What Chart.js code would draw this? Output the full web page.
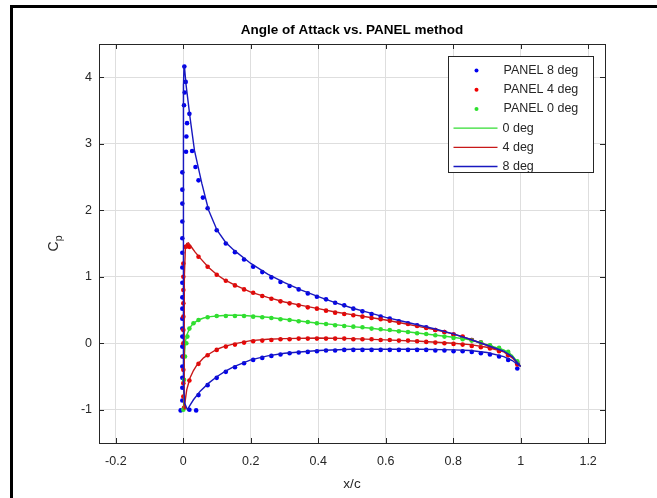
<!DOCTYPE html>
<html><head><meta charset="utf-8">
<script src="https://cdn.jsdelivr.net/npm/chart.js@4"></script>
<style>html,body{margin:0;padding:0;background:#fff}#wrap{width:657px;height:498px}</style>
</head><body><div id="wrap"><canvas id="c" width="657" height="498"></canvas></div>
<script>
const titleText = 'Angle of Attack vs. PANEL method';
const xLabel = 'x/c';
const xTicks = [-0.2, 0, 0.2, 0.4, 0.6, 0.8, 1, 1.2];
const yTicks = [-1, 0, 1, 2, 3, 4];

// panel method sample stations along the chord
const panelX = [0.018,0.045,0.072,0.099,0.126,0.153,0.18,0.207,0.234,0.261,0.288,0.315,0.342,0.369,0.396,0.423,0.45,0.477,0.504,0.531,0.558,0.585,0.612,0.639,0.666,0.693,0.72,0.747,0.774,0.801,0.828,0.855,0.882,0.909,0.936,0.963,0.99];
const panel8Upper = [3.45,2.45,2.03,1.70,1.50,1.37,1.26,1.15,1.07,0.99,0.92,0.86,0.81,0.75,0.70,0.66,0.61,0.57,0.52,0.48,0.44,0.40,0.37,0.33,0.30,0.27,0.24,0.20,0.17,0.13,0.09,0.05,0.01,-0.04,-0.09,-0.16,-0.30];
const panel8Lower = [-1.0,-0.78,-0.63,-0.52,-0.43,-0.36,-0.30,-0.25,-0.22,-0.19,-0.17,-0.15,-0.14,-0.13,-0.12,-0.11,-0.11,-0.10,-0.10,-0.10,-0.10,-0.10,-0.10,-0.10,-0.10,-0.10,-0.10,-0.11,-0.11,-0.12,-0.12,-0.13,-0.15,-0.17,-0.20,-0.25,-0.38];
const panel4Upper = [1.45,1.30,1.15,1.03,0.94,0.87,0.81,0.76,0.71,0.67,0.63,0.60,0.57,0.54,0.52,0.49,0.46,0.44,0.42,0.40,0.38,0.36,0.34,0.31,0.29,0.26,0.23,0.20,0.17,0.13,0.10,0.05,0.01,-0.04,-0.09,-0.17,-0.30];
const panel4Lower = [-0.56,-0.31,-0.18,-0.10,-0.05,-0.02,0.01,0.03,0.04,0.05,0.06,0.06,0.07,0.07,0.07,0.07,0.07,0.07,0.06,0.06,0.06,0.05,0.05,0.04,0.04,0.03,0.02,0.01,0.00,-0.01,-0.02,-0.04,-0.06,-0.08,-0.12,-0.18,-0.32];
const panel0 = [0.22,0.35,0.39,0.41,0.41,0.41,0.41,0.40,0.39,0.38,0.36,0.35,0.33,0.32,0.30,0.29,0.27,0.26,0.25,0.24,0.22,0.21,0.20,0.18,0.17,0.15,0.14,0.12,0.10,0.08,0.06,0.04,0.01,-0.03,-0.07,-0.13,-0.27];

// leading-edge panel points
const panel8LeX = [0.003,0.007,0.004,0.002,0.011,0.009,0.008,0.026,0.036,0.058,-0.003,-0.003,-0.003,-0.003,-0.003,-0.003,-0.003,-0.003,-0.003,-0.003,-0.003,-0.003,-0.003,-0.003,-0.003,-0.003,-0.003,-0.003,-0.003,-0.008,0.038];
const panel8LeY = [4.16,3.93,3.77,3.58,3.31,3.11,2.88,2.89,2.65,2.19,2.57,2.31,2.10,1.83,1.58,1.36,1.14,0.91,0.69,0.52,0.37,0.22,0.10,-0.05,-0.20,-0.35,-0.52,-0.67,-0.86,-1.01,-1.01];
const panel4LeX = [0.006,0.012,0.0,0.0,0.0,0.0,0.0,0.0,0.0,0.0,0.0,0.0,0.0,0.002];
const panel4LeY = [1.45,1.46,1.20,1.00,0.80,0.60,0.40,0.20,0.00,-0.20,-0.40,-0.60,-0.80,-0.97];
const panel0LeX = [0.0,0.002,0.005,0.009,0.012,0.03];
const panel0LeY = [-1.0,-0.55,-0.20,0.0,0.10,0.30];

// analytic curves (traced TE upper -> LE -> TE lower)
const line8X = [1.0,0.975,0.95,0.9,0.85,0.8,0.75,0.7,0.65,0.6,0.55,0.5,0.45,0.4,0.35,0.3,0.25,0.2,0.15,0.125,0.1,0.075,0.055,0.033,0.02,0.008,0.004,0.002,0.0005,0,0,0,0.001,0.004,0.012,0.02,0.03,0.05,0.075,0.1,0.125,0.15,0.2,0.25,0.3,0.4,0.5,0.6,0.7,0.8,0.85,0.9,0.95,0.975,1.0];
const line8Y = [-0.35,-0.2,-0.12,-0.03,0.06,0.14,0.21,0.27,0.33,0.39,0.46,0.53,0.61,0.70,0.80,0.91,1.04,1.20,1.40,1.52,1.70,2.0,2.4,2.9,3.39,3.89,4.12,4.18,3.9,3.0,1.5,0,-0.6,-0.9,-1.0,-0.93,-0.85,-0.72,-0.6,-0.5,-0.42,-0.35,-0.25,-0.19,-0.15,-0.11,-0.09,-0.09,-0.09,-0.10,-0.11,-0.14,-0.2,-0.26,-0.35];
const line4X = [1.0,0.975,0.95,0.9,0.85,0.8,0.75,0.7,0.65,0.6,0.55,0.5,0.45,0.4,0.35,0.3,0.25,0.2,0.15,0.12,0.1,0.075,0.05,0.035,0.025,0.015,0.01,0.006,0.003,0.002,0.002,0.003,0.006,0.01,0.02,0.03,0.04,0.06,0.08,0.1,0.12,0.15,0.2,0.25,0.3,0.4,0.5,0.6,0.7,0.8,0.85,0.9,0.95,0.975,1.0];
const line4Y = [-0.35,-0.22,-0.13,-0.03,0.06,0.14,0.2,0.25,0.30,0.35,0.39,0.43,0.47,0.52,0.57,0.62,0.69,0.77,0.88,0.96,1.03,1.14,1.28,1.37,1.44,1.51,1.5,1.42,1.0,0.0,-0.7,-1.0,-0.85,-0.7,-0.52,-0.41,-0.33,-0.22,-0.15,-0.09,-0.05,-0.01,0.04,0.06,0.07,0.08,0.07,0.05,0.03,0.0,-0.02,-0.06,-0.13,-0.21,-0.35];
const line0X = [0,0.001,0.003,0.006,0.01,0.02,0.03,0.045,0.06,0.08,0.1,0.13,0.17,0.2,0.25,0.3,0.35,0.4,0.45,0.5,0.55,0.6,0.65,0.7,0.75,0.8,0.85,0.9,0.95,0.975,1.0];
const line0Y = [-1.0,-0.6,-0.2,0.02,0.12,0.24,0.3,0.35,0.38,0.40,0.41,0.42,0.42,0.41,0.39,0.36,0.33,0.30,0.28,0.25,0.23,0.20,0.18,0.15,0.12,0.09,0.05,-0.02,-0.1,-0.18,-0.35];

const pts = (xs, ys) => xs.map((x, i) => ({x, y: ys[i]}));

const FONT = 'Liberation Sans, Arial, Helvetica, sans-serif';
const AX = '#262626';

const datasets = [
  {label:'PANEL 8 deg', data:[...pts(panelX,panel8Upper),...pts(panelX,panel8Lower),...pts(panel8LeX,panel8LeY)], showLine:false, pointRadius:2.3, pointBorderWidth:0, backgroundColor:'#0000f0', borderColor:'#0000f0', order:6, kind:'dot'},
  {label:'PANEL 4 deg', data:[...pts(panelX,panel4Upper),...pts(panelX,panel4Lower),...pts(panel4LeX,panel4LeY)], showLine:false, pointRadius:2.3, pointBorderWidth:0, backgroundColor:'#f00000', borderColor:'#f00000', order:5, kind:'dot'},
  {label:'PANEL 0 deg', data:[...pts(panelX,panel0),...pts(panel0LeX,panel0LeY)], showLine:false, pointRadius:2.3, pointBorderWidth:0, backgroundColor:'#2ee02e', borderColor:'#2ee02e', order:4, kind:'dot'},
  {label:'0 deg', data:pts(line0X,line0Y), showLine:true, pointRadius:0, borderWidth:1.4, borderColor:'#33dd33', backgroundColor:'#33dd33', tension:0, order:3, kind:'line'},
  {label:'4 deg', data:pts(line4X,line4Y), showLine:true, pointRadius:0, borderWidth:1.4, borderColor:'#c81818', backgroundColor:'#c81818', tension:0, order:2, kind:'line'},
  {label:'8 deg', data:pts(line8X,line8Y), showLine:true, pointRadius:0, borderWidth:1.4, borderColor:'#1818c0', backgroundColor:'#1818c0', tension:0, order:1, kind:'line'}
];

const matlabPlugin = {
  id: 'matlab',
  beforeDraw(chart) {
    const c = chart.ctx;
    c.save();
    c.fillStyle = '#fff';
    c.fillRect(0, 0, chart.width, chart.height);
    c.fillStyle = '#000';
    c.fillRect(10, 5, chart.width - 10, 3);
    c.fillRect(10, 5, 3, chart.height - 5);
    c.restore();
  },
  afterDatasetsDraw(chart) {
    const c = chart.ctx, a = chart.chartArea;
    const xs = chart.scales.x, ys = chart.scales.y;
    c.save();
    c.strokeStyle = AX;
    c.lineWidth = 1;
    c.beginPath();
    xTicks.forEach(v => {
      const px = Math.round(xs.getPixelForValue(v)) + 0.5;
      c.moveTo(px, a.bottom); c.lineTo(px, a.bottom - 5);
      c.moveTo(px, a.top); c.lineTo(px, a.top + 5);
    });
    yTicks.forEach(v => {
      const py = Math.round(ys.getPixelForValue(v)) + 0.5;
      c.moveTo(a.left, py); c.lineTo(a.left + 5, py);
      c.moveTo(a.right, py); c.lineTo(a.right - 5, py);
    });
    c.stroke();
    c.strokeRect(Math.round(a.left) + 0.5, Math.round(a.top) + 0.5, Math.round(a.right - a.left), Math.round(a.bottom - a.top));
    // legend
    const lw = 145, lh = 116;
    const lx = Math.round(a.right - 12 - lw) + 0.5, ly = Math.round(a.top + 12) + 0.5;
    c.fillStyle = '#fff';
    c.fillRect(lx, ly, lw, lh);
    c.strokeStyle = AX;
    c.strokeRect(lx, ly, lw, lh);
    c.font = '12.5px ' + FONT;
    c.textBaseline = 'middle';
    c.textAlign = 'left';
    chart.data.datasets.forEach((ds, i) => {
      const yy = ly + 14 + i * 19.2;
      if (ds.kind === 'dot') {
        c.fillStyle = ds.backgroundColor;
        c.beginPath(); c.arc(lx + 28, yy, 2, 0, Math.PI * 2); c.fill();
        c.fillStyle = AX;
        c.fillText(ds.label, lx + 55, yy);
      } else {
        c.strokeStyle = ds.borderColor;
        c.lineWidth = 1.3;
        c.beginPath(); c.moveTo(lx + 5, yy); c.lineTo(lx + 49, yy); c.stroke();
        c.fillStyle = AX;
        c.fillText(ds.label, lx + 54, yy);
      }
    });
    c.restore();
  },
  afterDraw(chart) {
    const c = chart.ctx, a = chart.chartArea;
    const cx = (a.left + a.right) / 2, cy = (a.top + a.bottom) / 2;
    c.save();
    c.fillStyle = '#000';
    c.font = 'bold 13.5px ' + FONT;
    c.textAlign = 'center';
    c.textBaseline = 'middle';
    c.fillText(titleText, cx, 30);
    c.fillStyle = AX;
    c.font = '13.5px ' + FONT;
    c.fillText(xLabel, cx, 484);
    c.translate(54, cy);
    c.rotate(-Math.PI / 2);
    c.textAlign = 'left';
    c.font = '14px ' + FONT;
    const wC = c.measureText('C').width;
    c.font = '10.5px ' + FONT;
    const wp = c.measureText('p').width;
    const start = -(wC + wp) / 2;
    c.font = '14px ' + FONT;
    c.fillText('C', start, 0);
    c.font = '10.5px ' + FONT;
    c.fillText('p', start + wC, 5);
    c.restore();
  }
};

new Chart(document.getElementById('c'), {
  type: 'scatter',
  data: { datasets },
  options: {
    responsive: false,
    devicePixelRatio: 1,
    animation: false,
    layout: { padding: { left: 39, right: 52, top: 44, bottom: 0 } },
    plugins: { legend: { display: false }, tooltip: { enabled: false }, title: { display: false } },
    scales: {
      x: {
        type: 'linear', min: -0.25, max: 1.25,
        afterBuildTicks: s => { s.ticks = xTicks.map(v => ({ value: v })); },
        afterFit: s => { s.height = 55; },
        grid: { color: '#dedede', drawTicks: false, lineWidth: 1 },
        border: { display: false },
        ticks: { color: AX, font: { family: FONT, size: 12.5 }, padding: 11, maxRotation: 0, callback: v => String(Math.round(v * 10) / 10) }
      },
      y: {
        type: 'linear', min: -1.5, max: 4.5,
        afterBuildTicks: s => { s.ticks = yTicks.map(v => ({ value: v })); },
        afterFit: s => { s.width = 60; },
        grid: { color: '#dedede', drawTicks: false, lineWidth: 1 },
        border: { display: false },
        ticks: { color: AX, font: { family: FONT, size: 12.5 }, padding: 7, callback: v => String(v) }
      }
    }
  },
  plugins: [matlabPlugin]
});
</script>
</body></html>
